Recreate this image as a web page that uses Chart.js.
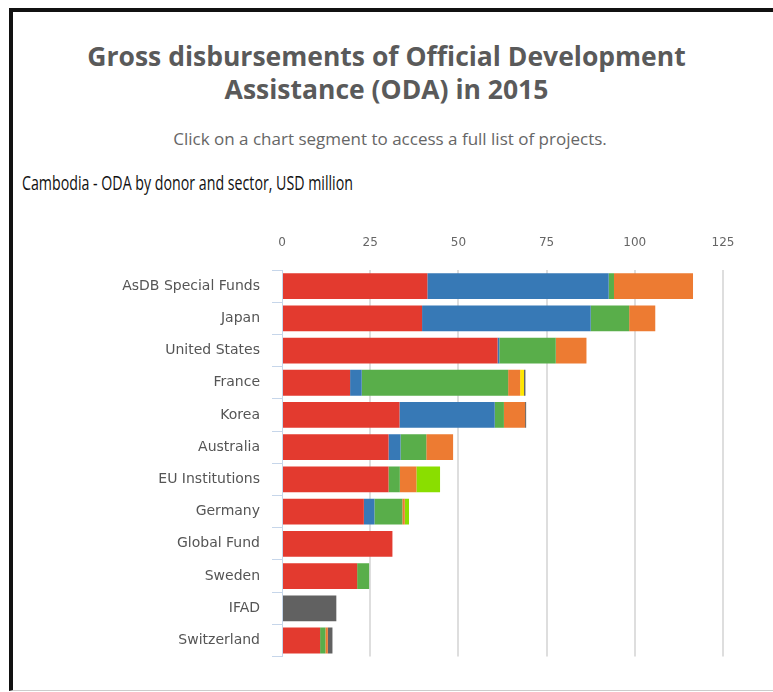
<!DOCTYPE html>
<html>
<head>
<meta charset="utf-8">
<script src="https://cdn.jsdelivr.net/npm/chart.js@4"></script>
<style>
  html, body { margin: 0; background: #fff; width: 773px; height: 692px; overflow: hidden; }
  body { position: relative; }
  .frame { position: absolute; left: 9px; top: 8px; width: 800px; height: 678px;
           border-top: 4px solid #111; border-left: 4px solid #111; border-bottom: 1px solid #ccc; }
  .title { position: absolute; left: 0; width: 773px; top: 40px; text-align: center;
           font-family: "Open Sans", sans-serif; font-weight: bold; font-size: 26.5px; line-height: 33px; color: #5a5a5a; }
  .sub { position: absolute; left: 0; width: 780px; top: 127px; text-align: center;
         font-family: "Open Sans", sans-serif; font-size: 17px; color: #666; }
  .head { position: absolute; left: 22px; top: 169px; font-family: "Open Sans", sans-serif; font-size: 20px; color: #111;
          transform: scaleX(0.71); transform-origin: left center; white-space: nowrap; }
  .wrap { position: absolute; left: 0; top: 225px; width: 773px; height: 452px; }
</style>
</head>
<body>
<div class="frame"></div>
<div class="title">Gross disbursements of Official Development<br>Assistance (ODA) in 2015</div>
<div class="sub">Click on a chart segment to access a full list of projects.</div>
<div class="head">Cambodia - ODA by donor and sector, USD million</div>
<div class="wrap"><canvas id="myChart"></canvas></div>
<script>
// donors, top to bottom
var donors = ['AsDB Special Funds', 'Japan', 'United States', 'France', 'Korea', 'Australia',
              'EU Institutions', 'Germany', 'Global Fund', 'Sweden', 'IFAD', 'Switzerland'];

// sector values, USD million
var social     = [41.2, 39.7, 61.1, 19.3, 33.3, 30.2, 30.2, 23.2, 31.3, 21.3, 0, 10.8];
var economic   = [51.4, 47.8, 0.5, 3.3, 27.0, 3.4, 0, 3.0, 0, 0, 0, 0];
var production = [1.5, 10.9, 16.0, 41.5, 2.6, 7.3, 3.2, 7.9, 0, 3.4, 0, 1.5];
var multi      = [22.4, 7.4, 8.7, 3.4, 6.0, 7.6, 4.7, 0.7, 0, 0, 0, 0.7];
var programme  = [0, 0, 0, 1.1, 0, 0, 0, 0, 0, 0, 0, 0];
var humanit    = [0, 0, 0, 0, 0, 0, 6.7, 1.2, 0, 0, 0, 0];
var other      = [0, 0, 0, 0.4, 0.3, 0, 0, 0, 0, 0, 15.4, 1.3];

var xTicks = [0, 25, 50, 75, 100, 125];

const ctx = document.getElementById('myChart');

function ds(label, data, color) {
    return { label: label, data: data, backgroundColor: color, borderWidth: 0 };
}

new Chart(ctx, {
    type: 'bar',
    data: {
        labels: donors,
        datasets: [
            ds('Social infrastructure & services', social, '#e33a2f'),
            ds('Economic infrastructure & services', economic, '#3779b6'),
            ds('Production sectors', production, '#59ae4a'),
            ds('Multi-sector / cross-cutting', multi, '#ed7b32'),
            ds('Programme assistance', programme, '#ffe600'),
            ds('Humanitarian aid', humanit, '#8ade00'),
            ds('Unallocated / unspecified', other, '#616161')
        ]
    },
    options: {
        indexAxis: 'y',
        responsive: true,
        maintainAspectRatio: false,
        animation: false,
        barPercentage: 0.8,
        categoryPercentage: 1,
        layout: { padding: { right: 50, bottom: 6 } },
        plugins: { legend: { display: false }, tooltip: { enabled: false } },
        scales: {
            x: {
                position: 'top',
                stacked: true,
                min: 0, max: 125,
                afterBuildTicks: function(s) { s.ticks = xTicks.map(function(v){ return { value: v }; }); },
                afterFit: function(s) { s.height = 45; },
                border: { display: false },
                grid: {
                    drawTicks: false,
                    lineWidth: 2,
                    color: function(c) { return c.index === 0 ? 'rgba(0,0,0,0)' : '#dedede'; }
                },
                ticks: { padding: 20, color: '#666', font: { family: 'DejaVu Sans', size: 12 } }
            },
            y: {
                stacked: true,
                afterFit: function(s) { s.width = 282; },
                border: { color: '#c6d6ea', width: 1 },
                grid: { drawOnChartArea: false, tickLength: 10, color: '#c6d6ea' },
                ticks: { padding: 12, color: '#555', font: { family: 'DejaVu Sans', size: 14 } }
            }
        }
    }
});
</script>
</body>
</html>
